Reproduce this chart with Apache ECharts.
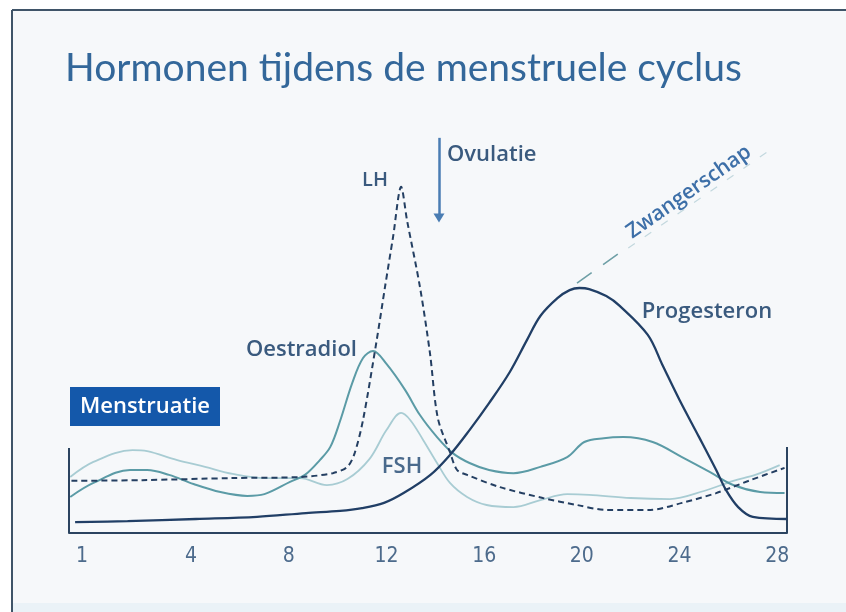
<!DOCTYPE html>
<html>
<head>
<meta charset="utf-8">
<script src="https://cdn.jsdelivr.net/npm/echarts@6/dist/echarts.min.js"></script>
<style>
html,body{margin:0;padding:0;background:#ffffff;}
#chart{width:846px;height:612px;}
</style>
</head>
<body>
<div id="chart"></div>
<script>
// ---- data (day of cycle, relative level) ----
const xTickLabels = ['1', '4', '8', '12', '16', '20', '24', '28'];
const xTickPos = [-0.47, 4, 8, 12, 16, 20, 24, 28];

const progesteronDays = [-0.75, 1.4, 4.2, 6.7, 8.7, 10.1, 11.0, 11.9, 12.7, 13.8, 14.6, 15.4, 16.2, 17.05, 17.75, 18.3, 19.0, 19.5, 19.9, 20.3, 21.0, 21.55, 22.7, 23.3, 24.0, 24.8, 25.5, 25.9, 26.4, 27.0, 28.4];
const progesteronVals = [3.1, 3.4, 4.0, 4.6, 5.7, 6.3, 7.1, 8.6, 11.4, 16.6, 22.3, 29.4, 37.1, 46, 55.1, 62, 67.1, 69.4, 70, 69.7, 67.7, 64.9, 56.6, 48, 38, 27.4, 18, 12.3, 7.4, 4.6, 4.0];

const lhDays = [-0.9, 2.0, 5.7, 8.5, 9.8, 10.4, 10.7, 11.04, 11.6, 11.94, 12.27, 12.6, 12.84, 13.37, 13.78, 14.1, 14.6, 14.89, 15.3, 16.65, 18.4, 19.8, 21.0, 22.8, 24.1, 25.5, 26.9, 28.3];
const lhVals = [14.9, 15.1, 15.7, 16, 17.1, 18.9, 22.9, 32.3, 55.1, 70.3, 84.6, 98.9, 89.4, 70.3, 51.4, 32.9, 23.1, 18, 16.6, 13.1, 10, 8, 6.6, 6.6, 8.6, 11.4, 15.1, 18.6];

const oestradiolDays = [-0.95, 0.0, 1.5, 2.2, 3.1, 4.1, 5.2, 6.3, 7.0, 8.05, 8.66, 9.28, 9.7, 10.1, 10.6, 11.04, 11.45, 12.0, 12.76, 13.37, 14.07, 14.7, 15.4, 16.2, 17.2, 18.3, 19.4, 20.1, 20.9, 21.7, 22.9, 24.1, 25.25, 26.2, 27.3, 28.3];
const oestradiolVals = [10.3, 14.3, 18, 18, 16.6, 14, 11.7, 10.6, 11.1, 14.6, 16.6, 20.9, 24.6, 32, 42.9, 50, 52, 48.3, 40.9, 33.7, 27.4, 22.9, 20, 18, 17.1, 18.9, 21.7, 26, 27.1, 27.4, 26, 21.7, 17.4, 13.7, 11.7, 11.4];

const fshDays = [-0.95, 0.0, 1.6, 2.2, 3.4, 4.57, 5.7, 7.0, 8.46, 9.56, 10.4, 11.3, 12.0, 12.6, 12.97, 13.5, 14.07, 14.6, 15.3, 16.1, 17.2, 18.3, 19.4, 20.3, 22.0, 23.6, 25.0, 26.2, 27.1, 28.1];
const fshVals = [16, 20.3, 23.7, 23.4, 20.9, 18.9, 16.9, 15.7, 15.7, 13.7, 15.4, 21.1, 29.4, 34.3, 32.3, 26.6, 20, 14.3, 10.3, 8, 7.4, 9.4, 11.1, 10.9, 10, 9.7, 12, 14.9, 16.6, 19.4];

const zwangerschapDays = [19.8, 21.6];
const zwangerschapVals = [71.4, 80.3];
const zwangerschapTailDays = [21.9, 27.7];
const zwangerschapTailVals = [81.4, 109.4];

const ovulatieDay = 14.15;
const ovulatieRange = [112.9, 90];
const frameLeft = [-1, 24.3];
const frameRight = [28.4, 24.6];

// ---- build ----
function pairs(xs, ys) { return xs.map((x, i) => [x, ys[i]]); }

const chart = echarts.init(document.getElementById('chart'), null, { renderer: 'canvas' });
const navy = '#213f66';
const labelColor = '#3a5a7e';
const labelFont = "'Open Sans', 'Noto Sans', sans-serif";

const option = {
  animation: false,
  backgroundColor: '#ffffff',
  grid: { left: 69, right: 59, top: 113, bottom: 79, containLabel: false },
  xAxis: {
    type: 'value', min: -1, max: 28.4,
    splitLine: { show: false },
    axisTick: { show: false },
    axisLine: { lineStyle: { color: '#2b4460', width: 2 } },
    axisLabel: {
      customValues: xTickPos,
      formatter: function (v) { const i = xTickPos.indexOf(v); return i >= 0 ? xTickLabels[i] : ''; },
      color: '#4d6b8c', fontSize: 21, margin: 13,
      fontFamily: "'Liberation Sans Narrow', 'DejaVu Sans Condensed', Roboto, sans-serif"
    }
  },
  yAxis: { type: 'value', min: 0, max: 120, show: false },
  graphic: [
    { type: 'rect', z: -10, silent: true, shape: { x: 12, y: 10, width: 834, height: 602 }, style: { fill: '#f6f8fa' } },
    { type: 'rect', z: -9, silent: true, shape: { x: 12, y: 603, width: 834, height: 9 }, style: { fill: '#eaf2f7' } },
    { type: 'line', z: 5, silent: true, shape: { x1: 12, y1: 10, x2: 846, y2: 10 }, style: { stroke: '#3f5468', lineWidth: 2 } },
    { type: 'line', z: 5, silent: true, shape: { x1: 12, y1: 10, x2: 12, y2: 612 }, style: { stroke: '#3f5468', lineWidth: 2 } },
    { type: 'text', z: 5, x: 65, y: 68, style: { text: 'Hormonen tijdens de menstruele cyclus', fill: '#33679a', font: "400 39px Lato, 'Open Sans', sans-serif", verticalAlign: 'middle' } },
    { type: 'rect', z: 5, shape: { x: 70, y: 387, width: 150, height: 39 }, style: { fill: '#1458aa' } },
    { type: 'text', z: 6, x: 145, y: 407, style: { text: 'Menstruatie', fill: '#ffffff', font: "600 22px " + labelFont, align: 'center', verticalAlign: 'middle' } },
    { type: 'text', z: 6, x: 375, y: 180, style: { text: 'LH', fill: labelColor, font: "600 20px " + labelFont, align: 'center', verticalAlign: 'middle' } },
    { type: 'text', z: 6, x: 447, y: 155, style: { text: 'Ovulatie', fill: labelColor, font: "600 22px " + labelFont, align: 'left', verticalAlign: 'middle' } },
    { type: 'text', z: 6, x: 357, y: 350, style: { text: 'Oestradiol', fill: labelColor, font: "600 22px " + labelFont, align: 'right', verticalAlign: 'middle' } },
    { type: 'text', z: 6, x: 402, y: 467, style: { text: 'FSH', fill: '#4a6a8c', font: "600 22px " + labelFont, align: 'center', verticalAlign: 'middle' } },
    { type: 'text', z: 6, x: 707, y: 312, style: { text: 'Progesteron', fill: labelColor, font: "600 22px " + labelFont, align: 'center', verticalAlign: 'middle' } },
    { type: 'text', z: 6, x: 689, y: 192, rotation: 35 * Math.PI / 180, style: { text: 'Zwangerschap', fill: '#3d6fa8', font: "600 21px " + labelFont, align: 'center', verticalAlign: 'middle' } }
  ],
  series: [
    {
      name: 'FSH', type: 'line', data: pairs(fshDays, fshVals), smooth: 0.35, symbol: 'none', z: 2,
      lineStyle: { color: '#a8ccd3', width: 1.8 }
    },
    {
      name: 'Oestradiol', type: 'line', data: pairs(oestradiolDays, oestradiolVals), smooth: 0.35, symbol: 'none', z: 3,
      lineStyle: { color: '#5b9ba6', width: 2 }
    },
    {
      name: 'LH', type: 'line', data: pairs(lhDays, lhVals), smooth: 0.3, symbol: 'none', z: 4,
      lineStyle: { color: '#243f62', width: 2, type: [6, 4] }
    },
    {
      name: 'Progesteron', type: 'line', data: pairs(progesteronDays, progesteronVals), smooth: 0.35, symbol: 'none', z: 5,
      lineStyle: { color: navy, width: 2.3 }
    },
    {
      name: 'Zwangerschap', type: 'line', data: pairs(zwangerschapDays, zwangerschapVals), symbol: 'none', z: 4,
      lineStyle: { color: '#6e9fa6', width: 1.6, type: [18, 14] }
    },
    {
      name: 'ZwangerschapTail', type: 'line', data: pairs(zwangerschapTailDays, zwangerschapTailVals), symbol: 'none', z: 1,
      lineStyle: { color: '#c3d8de', width: 1.2, type: [8, 12] }
    },
    {
      name: 'frame', type: 'line', data: [], clip: false, silent: true,
      markLine: {
        silent: true, animation: false, symbol: ['none', 'none'],
        label: { show: false },
        lineStyle: { color: '#2b4460', width: 2, type: 'solid' },
        emphasis: { disabled: true },
        data: [
          [{ coord: [frameLeft[0], 0] }, { coord: [frameLeft[0], frameLeft[1]] }],
          [{ coord: [frameRight[0], 0] }, { coord: [frameRight[0], frameRight[1]] }]
        ]
      }
    },
    {
      name: 'Ovulatie', type: 'line', data: [], clip: false, silent: true,
      markLine: {
        silent: true, animation: false, symbol: ['none', 'triangle'], symbolSize: [11, 9], symbolRotate: 180,
        label: { show: false },
        lineStyle: { color: '#4a7db3', width: 2.5, type: 'solid' },
        emphasis: { disabled: true },
        data: [
          [{ coord: [ovulatieDay, ovulatieRange[0]] }, { coord: [ovulatieDay, ovulatieRange[1]] }]
        ]
      }
    }
  ]
};
chart.setOption(option);
</script>
</body>
</html>
